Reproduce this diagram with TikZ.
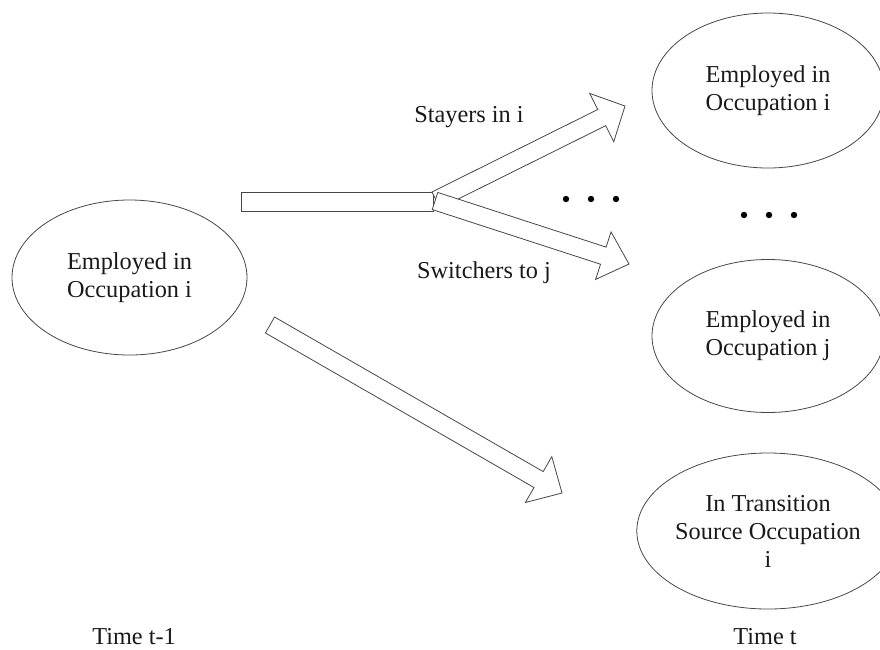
\documentclass[tikz,border=0pt]{standalone}
\usepackage{fontspec}
\setmainfont{Liberation Serif}
\usetikzlibrary{shapes.geometric,calc}
\tikzset{
  state/.style={draw=black!72, line width=0.8pt, ellipse, inner sep=0pt, align=center,
    font=\fontsize{24.3}{28}\selectfont, text=black!90},
  lbl/.style={inner sep=0pt, align=center, font=\fontsize{24.3}{28}\selectfont, text=black!90},
  barrow/.style={draw=black!72, line width=0.8pt, fill=white, line join=miter},
  dotfill/.style={fill=black}
}
% #1 start, #2 tip, #3 half shaft width, #4 half head width, #5 head length (all dimensions)
\newcommand{\blockarrow}[5]{%
  \path ($(#2)!#5!(#1)$) coordinate (babase);
  \draw[barrow] ($(#1)!#3!90:(#2)$) -- ($(babase)!#3!90:(#2)$) -- ($(babase)!#4!90:(#2)$)
    -- (#2) -- ($(babase)!#4!-90:(#2)$) -- ($(babase)!#3!-90:(#2)$) -- ($(#1)!#3!-90:(#2)$) -- cycle;
}
\begin{document}
\begin{tikzpicture}[x=1pt,y=-1pt]
\useasboundingbox (0,0) rectangle (880,649);
% states
\node[state, minimum width=235pt, minimum height=155pt] (src) at (129.5,277.5) {Employed in\\Occupation i};
\node[state, minimum width=232pt, minimum height=155pt] (oi) at (768,90.5) {Employed in\\Occupation i};
\node[state, minimum width=232pt, minimum height=153pt] (oj) at (768,336) {Employed in\\Occupation j};
\node[state, minimum width=226pt, minimum height=156pt] (tr) at (768,531) {In Transition\\Source Occupation\\i};
% labels
\node[lbl] (stay) at (469,117) {Stayers in i};
\node[lbl] (switch) at (484,273) {Switchers to j};
\node[lbl] (tprev) at (134,637) {Time t-1};
\node[lbl] (tnow) at (765,637) {Time t};
% arrow anchors
\coordinate (barL) at (241,192);
\coordinate (barR) at (433,211);
\coordinate (upS) at (436,200);
\coordinate (upT) at (625,106);
\coordinate (loS) at (435,201);
\coordinate (loT) at (629,264);
\coordinate (dgS) at (270,325);
\coordinate (dgT) at (562,493);
% arrows
\draw[barrow] (barL) rectangle (barR);
\blockarrow{upS}{upT}{9pt}{27pt}{26pt}
\blockarrow{loS}{loT}{9pt}{25pt}{27pt}
\blockarrow{dgS}{dgT}{9.2pt}{26.5pt}{27pt}
% dots
\foreach \x in {566,591,616} \fill[dotfill] (\x,199) circle (3.2);
\foreach \x in {744,769,794} \fill[dotfill] (\x,215) circle (3.2);
\end{tikzpicture}
\end{document}
